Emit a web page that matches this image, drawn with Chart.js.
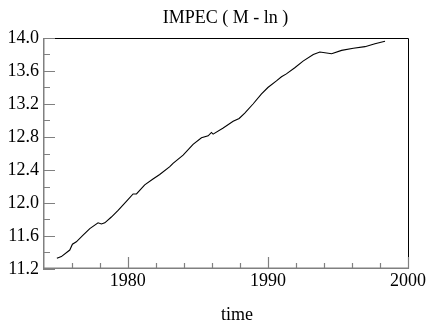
<!DOCTYPE html>
<html>
<head>
<meta charset="utf-8">
<script src="https://cdn.jsdelivr.net/npm/chart.js@4/dist/chart.umd.min.js"></script>
<style>
  html, body { margin: 0; padding: 0; background: #fff; }
  #wrap { width: 430px; height: 329px; }
</style>
</head>
<body>
<div id="wrap"><canvas id="chart-area" width="430" height="329"></canvas></div>
<script>
// series
var years = [1974.94, 1975.26, 1975.86, 1976.05, 1976.33, 1976.81, 1977.29, 1977.88, 1978.12, 1978.36,
             1978.83, 1979.31, 1979.90, 1980.38, 1980.62, 1981.21, 1981.80, 1982.28, 1983.0, 1983.23,
             1983.95, 1984.66, 1985.26, 1985.74, 1985.97, 1986.09, 1986.81, 1987.52, 1987.95, 1988.35,
             1988.94, 1989.53, 1990.0, 1990.61, 1990.97, 1991.32, 1991.92, 1992.51, 1993.24, 1993.71,
             1994.55, 1995.26, 1996.1, 1996.93, 1997.64, 1998.36];
var impec = [11.33, 11.35, 11.43, 11.50, 11.53, 11.61, 11.69, 11.76, 11.745, 11.76,
             11.83, 11.91, 12.02, 12.11, 12.11, 12.22, 12.29, 12.345, 12.44, 12.48,
             12.58, 12.71, 12.79, 12.815, 12.855, 12.835, 12.91, 12.99, 13.025, 13.09,
             13.20, 13.32, 13.40, 13.48, 13.53, 13.565, 13.64, 13.72, 13.80, 13.83,
             13.81, 13.85, 13.875, 13.895, 13.93, 13.96];

var xMajor = [1980, 1990, 2000];
var xMinor = [1976, 1978, 1982, 1984, 1986, 1988, 1992, 1994, 1996, 1998];
var yMajor = [11.2, 11.6, 12.0, 12.4, 12.8, 13.2, 13.6, 14.0];
var yMinor = [11.4, 11.8, 12.2, 12.6, 13.0, 13.4, 13.8];

var chartTitle = 'IMPEC ( M - ln )';
var xTitle = 'time';

var serif = "'Liberation Serif', 'Times New Roman', serif";

// frame: black top/right, grey axes with inward ticks, titles
var framePlugin = {
  id: 'frame',
  afterDraw: function(chart){
    var ctx = chart.ctx;
    var a = chart.chartArea;
    var xs = chart.scales.x, ys = chart.scales.y;
    ctx.save();
    ctx.strokeStyle = '#000';
    ctx.lineWidth = 1;
    ctx.beginPath();
    ctx.moveTo(a.left, a.top + 0.5);
    ctx.lineTo(a.right + 0.5, a.top + 0.5);
    ctx.lineTo(a.right + 0.5, a.bottom);
    ctx.stroke();

    ctx.strokeStyle = '#808080';
    ctx.lineWidth = 1.5;
    ctx.beginPath();
    ctx.moveTo(a.left + 0.75, a.top);
    ctx.lineTo(a.left + 0.75, a.bottom - 0.75);
    ctx.lineTo(a.right + 1, a.bottom - 0.75);
    ctx.stroke();

    ctx.lineWidth = 1.2;
    ctx.beginPath();
    yMajor.forEach(function(v){
      var p = Math.round(ys.getPixelForValue(v)) + 0.5;
      ctx.moveTo(a.left, p); ctx.lineTo(a.left + 12, p);
    });
    yMinor.forEach(function(v){
      var p = Math.round(ys.getPixelForValue(v)) + 0.5;
      ctx.moveTo(a.left, p); ctx.lineTo(a.left + 7, p);
    });
    xMajor.forEach(function(v){
      var p = Math.round(xs.getPixelForValue(v)) + 0.5;
      ctx.moveTo(p, a.bottom); ctx.lineTo(p, a.bottom - 12);
    });
    xMinor.forEach(function(v){
      var p = Math.round(xs.getPixelForValue(v)) + 0.5;
      ctx.moveTo(p, a.bottom); ctx.lineTo(p, a.bottom - 6);
    });
    ctx.stroke();

    ctx.fillStyle = '#000';
    ctx.font = '18px ' + serif;
    ctx.textAlign = 'center';
    ctx.textBaseline = 'alphabetic';
    // main title over the plot box
    ctx.fillText(chartTitle, (a.left + a.right) / 2, a.top - 15);
    // axis title, sits a little right of centre in the original
    ctx.fillText(xTitle, (a.left + a.right) / 2 + 11.5, a.bottom + 51);
    ctx.restore();
  }
};

var config = {
  type: 'line',
  data: {
    datasets: [{
      label: 'IMPEC',
      data: years.map(function(y, i){ return {x: y, y: impec[i]}; }),
      borderColor: '#000',
      borderWidth: 1.1,
      pointRadius: 0,
      tension: 0,
      fill: false
    }]
  },
  options: {
    responsive: false,
    animation: false,
    layout: { padding: { left: 0, right: 22, top: 38, bottom: 0 } },
    plugins: {
      legend: { display: false },
      tooltip: { enabled: false },
      title: { display: false }
    },
    scales: {
      x: {
        type: 'linear',
        min: 1973.95,
        max: 2000,
        afterBuildTicks: function(scale){
          scale.ticks = xMajor.map(function(v){ return {value: v}; });
        },
        afterFit: function(scale){ scale.height = 60; },
        grid: { display: false, drawTicks: false },
        border: { display: false },
        ticks: {
          color: '#000',
          padding: 1,
          maxRotation: 0,
          font: { family: serif, size: 18 },
          callback: function(v){ return String(v); }
        }
      },
      y: {
        type: 'linear',
        min: 11.2,
        max: 14.0,
        afterBuildTicks: function(scale){
          scale.ticks = yMajor.map(function(v){ return {value: v}; });
        },
        afterFit: function(scale){ scale.width = 43; },
        grid: { display: false, drawTicks: false },
        border: { display: false },
        ticks: {
          color: '#000',
          padding: 4,
          font: { family: serif, size: 18 },
          callback: function(v){ return Number(v).toFixed(1); }
        }
      }
    }
  },
  plugins: [framePlugin]
};

var ctx = document.getElementById('chart-area').getContext('2d');
window.myLine = new Chart(ctx, config);
</script>
</body>
</html>
